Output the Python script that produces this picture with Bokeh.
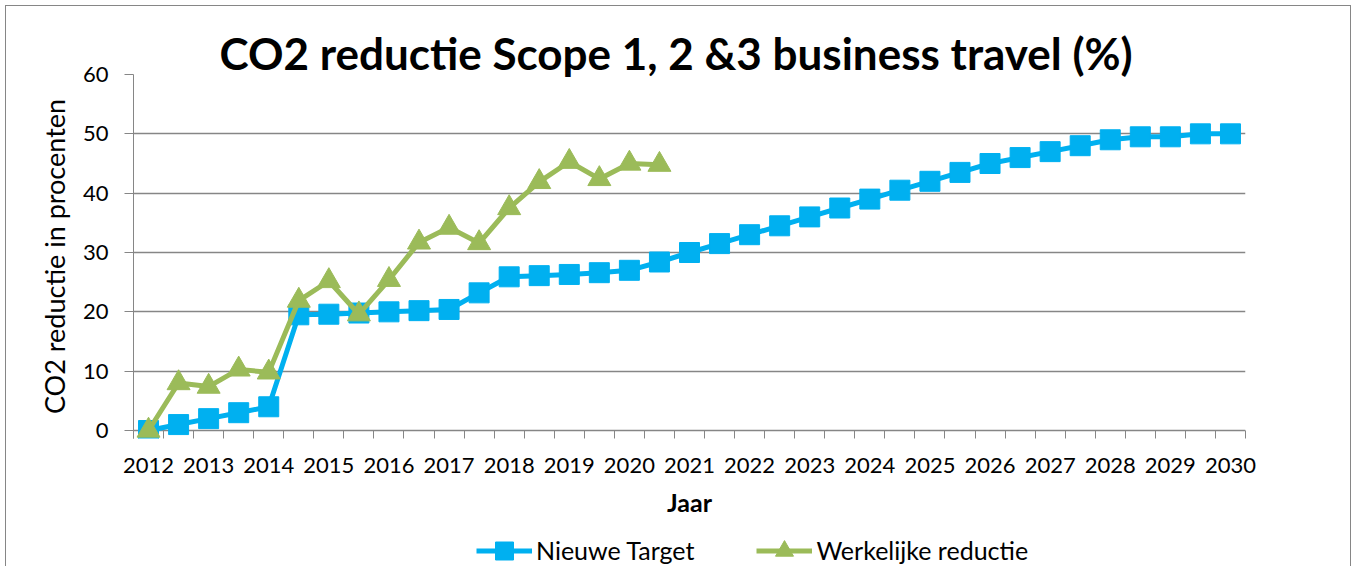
from bokeh.plotting import figure
from bokeh.layouts import column
from bokeh.models import Range1d, FixedTicker, Legend, LegendItem
from bokeh.embed import file_html
from bokeh.resources import INLINE

# ---------------- data ----------------
periods = [2012.0, 2012.5, 2013.0, 2013.5, 2014.0, 2014.5, 2015.0, 2015.5, 2016.0, 2016.5,
           2017.0, 2017.5, 2018.0, 2018.5, 2019.0, 2019.5, 2020.0, 2020.5, 2021.0, 2021.5,
           2022.0, 2022.5, 2023.0, 2023.5, 2024.0, 2024.5, 2025.0, 2025.5, 2026.0, 2026.5,
           2027.0, 2027.5, 2028.0, 2028.5, 2029.0, 2029.5, 2030.0]
nieuwe_target = [0, 1, 2, 3, 4, 19.5, 19.6, 19.8, 20.0, 20.2,
                 20.4, 23.2, 25.9, 26.1, 26.3, 26.6, 27.0, 28.4, 30.0, 31.5,
                 33.0, 34.5, 36.0, 37.5, 39.0, 40.5, 42.0, 43.5, 45.0, 46.0,
                 47.0, 48.0, 49.0, 49.5, 49.5, 50.0, 50.0]
werkelijke_reductie = [0, 8.0, 7.4, 10.3, 9.8, 21.9, 25.2, 19.6, 25.4, 31.7,
                       34.2, 31.6, 37.5, 41.9, 45.3, 42.4, 45.0, 44.8]
actual_periods = periods[:len(werkelijke_reductie)]
year_ticks = [2012, 2013, 2014, 2015, 2016, 2017, 2018, 2019, 2020, 2021,
              2022, 2023, 2024, 2025, 2026, 2027, 2028, 2029, 2030]
year_labels = ["2012", "2013", "2014", "2015", "2016", "2017", "2018", "2019", "2020", "2021",
               "2022", "2023", "2024", "2025", "2026", "2027", "2028", "2029", "2030"]
y_ticks = [0, 10, 20, 30, 40, 50, 60]

title_text = "CO2 reductie Scope 1, 2 &3 business travel (%)"
y_title = "CO2 reductie in procenten"
x_title = "Jaar"
series_names = ["Nieuwe Target", "Werkelijke reductie"]

# ---------------- layout (page pixels) ----------------
OFF = 6                      # margin 5 + 1px border
W = 1346
H1 = 518                     # main chart canvas height
H2 = 567 - OFF - H1          # legend strip height
FL, FR, FT, FB = 133, 1245, 74, 438
ZERO_Y = 430
PXU = (ZERO_Y - FT) / 60.0
Y0 = -(FB - ZERO_Y) / PXU
X0, X1 = periods[0] - 0.25, periods[-1] + 0.25

BLUE = "#00B0F0"
GREEN = "#9BBB59"
GRAY = "#868686"
FONT = "Lato"
BORDER = "1px solid #868686"

p = figure(width=W, height=H1, output_backend="svg", toolbar_location=None,
           x_range=Range1d(X0, X1), y_range=Range1d(Y0, 60),
           min_border_left=FL - OFF, min_border_right=OFF + W - FR,
           min_border_top=FT - OFF, min_border_bottom=OFF + H1 - FB,
           margin=(5, 0, 0, 5),
           styles={"border-left": BORDER, "border-top": BORDER, "border-right": BORDER})
p.outline_line_color = None
p.background_fill_color = "white"
p.border_fill_color = "white"

# title
p.title.text = title_text
p.title.text_font = FONT
p.title.text_font_style = "bold"
p.title.text_font_size = "44px"
p.title.text_color = "black"
p.title.align = "left"
p.title.offset = 221 - FL - 2
p.title.standoff = -8

# x axis (axis line replaced by the 0 grid line, ticks hang below it)
boundaries = [x - 0.25 for x in periods] + [periods[-1] + 0.25]
p.xaxis.ticker = FixedTicker(ticks=year_ticks, minor_ticks=boundaries)
p.xaxis.major_label_overrides = {t: l for t, l in zip(year_ticks, year_labels)}
p.xaxis.axis_line_color = None
p.xaxis.major_tick_line_color = None
p.xaxis.major_tick_in = 0
p.xaxis.major_tick_out = 0
p.xaxis.minor_tick_in = FB - ZERO_Y
p.xaxis.minor_tick_out = 0
p.xaxis.minor_tick_line_color = GRAY
p.xaxis.major_label_standoff = 19
p.xaxis.major_label_text_font = FONT
p.xaxis.major_label_text_font_size = "22px"
p.xaxis.major_label_text_color = "black"
p.xaxis.axis_label = x_title
p.xaxis.axis_label_text_font = FONT
p.xaxis.axis_label_text_font_style = "bold"
p.xaxis.axis_label_text_font_size = "25px"
p.xaxis.axis_label_text_color = "black"
p.xaxis.axis_label_standoff = 11

# y axis
p.yaxis.ticker = FixedTicker(ticks=y_ticks)
p.yaxis.major_tick_in = 0
p.yaxis.major_tick_out = 9
p.yaxis.minor_tick_line_color = None
p.yaxis.major_tick_line_color = GRAY
p.yaxis.axis_line_color = GRAY
p.yaxis.major_label_standoff = 16
p.yaxis.major_label_text_font = FONT
p.yaxis.major_label_text_font_size = "22px"
p.yaxis.major_label_text_color = "black"
p.yaxis.axis_label = y_title
p.yaxis.axis_label_text_font = FONT
p.yaxis.axis_label_text_font_style = "normal"
p.yaxis.axis_label_text_font_size = "27px"
p.yaxis.axis_label_text_color = "black"
p.yaxis.axis_label_standoff = 9

p.xgrid.grid_line_color = None
p.ygrid.ticker = FixedTicker(ticks=y_ticks)
p.ygrid.grid_line_color = GRAY
p.ygrid.grid_line_width = 1.3

# series
line_kw = dict(line_width=5, line_join="round")
p.line(periods, nieuwe_target, line_color=BLUE, **line_kw)
p.scatter(periods, nieuwe_target, marker="square", size=20,
          fill_color=BLUE, line_color=BLUE, line_width=1)
p.line(actual_periods, werkelijke_reductie, line_color=GREEN, **line_kw)
p.scatter(actual_periods, werkelijke_reductie, marker="triangle", size=23,
          fill_color=GREEN, line_color=GREEN, line_width=1)

# ---------------- legend strip (same series; out of this strip's range) ----------------
p2 = figure(width=W, height=H2, output_backend="svg", toolbar_location=None,
            x_range=Range1d(0, 1), y_range=Range1d(-1000, -999),
            x_axis_location=None, y_axis_location=None,
            min_border=0, margin=(0, 0, 0, 5),
            styles={"border-left": BORDER, "border-right": BORDER})
p2.grid.visible = False
p2.outline_line_color = None
p2.background_fill_color = "white"
p2.border_fill_color = "white"
lg1 = p2.line(periods, nieuwe_target, line_color=BLUE, **line_kw)
mk1 = p2.scatter(periods, nieuwe_target, marker="square", fill_color=BLUE, line_color=BLUE)
lg2 = p2.line(actual_periods, werkelijke_reductie, line_color=GREEN, **line_kw)
mk2 = p2.scatter(actual_periods, werkelijke_reductie, marker="triangle",
                 fill_color=GREEN, line_color=GREEN)

GH = 45
LEGEND_SHIFT = 128           # measured offset of tuple-located legend in this strip
legend = Legend(items=[LegendItem(label=series_names[0], renderers=[lg1, mk1]),
                       LegendItem(label=series_names[1], renderers=[lg2, mk2])],
                orientation="horizontal",
                location=(477 - OFF - LEGEND_SHIFT, (567 - 551) - GH / 2),
                glyph_width=56, glyph_height=GH, label_standoff=4, spacing=62,
                padding=0, margin=0, border_line_color=None, background_fill_alpha=0,
                label_text_font=FONT, label_text_font_size="25px", label_text_color="black")
p2.add_layout(legend, "center")

layout = column(p, p2, spacing=0)
open("out.html", "w").write(file_html(layout, INLINE))
